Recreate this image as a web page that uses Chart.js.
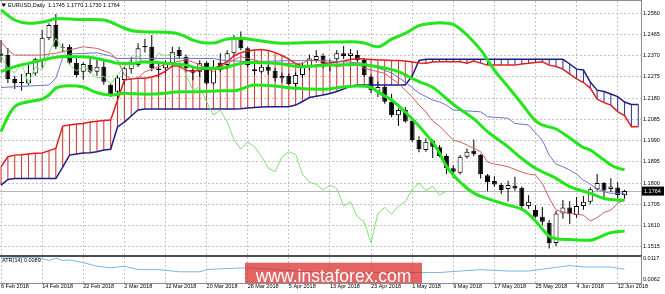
<!DOCTYPE html>
<html>
<head>
<meta charset="utf-8">
<script src="https://cdn.jsdelivr.net/npm/chart.js@4.4.1/dist/chart.umd.min.js"></script>
<style>
  html, body { margin: 0; padding: 0; background: #fff; }
  #wrap { position: relative; width: 665px; height: 294px; overflow: hidden; }
  #main { position: absolute; left: 0; top: 0; }
  #atr { position: absolute; left: 0; top: 256px; }
</style>
</head>
<body>
<div id="wrap">
  <canvas id="main" width="665" height="256"></canvas>
  <canvas id="atr" width="665" height="38"></canvas>
</div>
<script>
// EURUSD daily, bar 0 = 6 Feb 2018 ... bar 91 = 13 Jun 2018 (cloud runs 2 bars further)
const tickBars = [0, 6, 12, 18, 24, 30, 36, 42, 48, 54, 60, 66, 72, 78, 84, 90];
const tickDates = ['6 Feb 2018', '14 Feb 2018', '22 Feb 2018', '2 Mar 2018', '12 Mar 2018', '20 Mar 2018',
  '28 Mar 2018', '5 Apr 2018', '13 Apr 2018', '23 Apr 2018', '1 May 2018', '9 May 2018',
  '17 May 2018', '25 May 2018', '4 Jun 2018', '12 Jun 2018'];
const priceTicks = [1.1515, 1.1610, 1.1705, 1.1800, 1.1895, 1.1990, 1.2085, 1.2180, 1.2275, 1.2370, 1.2465, 1.2560];
const atrTicks = [0.0062, 0.0117];

const barOpen = [1.2370, 1.2373, 1.2266, 1.2248, 1.2246, 1.2291, 1.2351, 1.2448, 1.2508, 1.2405,
  1.2410, 1.2339, 1.2298, 1.2328, 1.2298, 1.2321, 1.2240, 1.2209, 1.2261, 1.2309,
  1.2328, 1.2408, 1.2410, 1.2313, 1.2314, 1.2336, 1.2396, 1.2366, 1.2306, 1.2298,
  1.2339, 1.2246, 1.2339, 1.2329, 1.2381, 1.2444, 1.2403, 1.2309, 1.2298, 1.2321,
  1.2303, 1.2269, 1.2279, 1.2243, 1.2284, 1.2321, 1.2351, 1.2369, 1.2328, 1.2354,
  1.2381, 1.2369, 1.2373, 1.2351, 1.2276, 1.2210, 1.2231, 1.2164, 1.2104, 1.2127,
  1.2079, 1.1993, 1.1948, 1.1989, 1.1960, 1.1921, 1.1866, 1.1846, 1.1918, 1.1945,
  1.1925, 1.1835, 1.1809, 1.1791, 1.1773, 1.1788, 1.1779, 1.1697, 1.1679, 1.1649,
  1.1622, 1.1532, 1.1664, 1.1691, 1.1657, 1.1697, 1.1716, 1.1772, 1.1800, 1.1773,
  1.1780, 1.1745];
const barHigh = [1.2440, 1.2405, 1.2280, 1.2288, 1.2328, 1.2360, 1.2485, 1.2515, 1.2557, 1.2425,
  1.2420, 1.2362, 1.2340, 1.2355, 1.2355, 1.2345, 1.2245, 1.2285, 1.2320, 1.2365,
  1.2426, 1.2446, 1.2463, 1.2335, 1.2350, 1.2410, 1.2410, 1.2375, 1.2320, 1.2350,
  1.2345, 1.2351, 1.2381, 1.2395, 1.2463, 1.2478, 1.2410, 1.2335, 1.2330, 1.2330,
  1.2315, 1.2295, 1.2290, 1.2295, 1.2340, 1.2375, 1.2396, 1.2380, 1.2355, 1.2396,
  1.2414, 1.2400, 1.2395, 1.2360, 1.2285, 1.2255, 1.2240, 1.2200, 1.2135, 1.2140,
  1.2085, 1.2010, 1.2000, 1.1995, 1.1970, 1.1930, 1.1880, 1.1925, 1.1955, 1.1995,
  1.1930, 1.1840, 1.1830, 1.1800, 1.1810, 1.1828, 1.1785, 1.1745, 1.1700, 1.1693,
  1.1635, 1.1675, 1.1724, 1.1718, 1.1738, 1.1742, 1.1780, 1.1840, 1.1805, 1.1822,
  1.1804, 1.1770];
const barLow = [1.2340, 1.2248, 1.2221, 1.2213, 1.2238, 1.2280, 1.2315, 1.2440, 1.2400, 1.2385,
  1.2330, 1.2273, 1.2262, 1.2290, 1.2280, 1.2240, 1.2185, 1.2172, 1.2245, 1.2290,
  1.2320, 1.2385, 1.2300, 1.2275, 1.2290, 1.2320, 1.2355, 1.2300, 1.2260, 1.2275,
  1.2240, 1.2240, 1.2298, 1.2310, 1.2370, 1.2395, 1.2320, 1.2285, 1.2290, 1.2285,
  1.2255, 1.2250, 1.2240, 1.2215, 1.2270, 1.2305, 1.2340, 1.2315, 1.2300, 1.2340,
  1.2355, 1.2355, 1.2345, 1.2275, 1.2203, 1.2185, 1.2155, 1.2095, 1.2055, 1.2070,
  1.1985, 1.1938, 1.1940, 1.1912, 1.1915, 1.1840, 1.1823, 1.1838, 1.1910, 1.1920,
  1.1820, 1.1763, 1.1783, 1.1750, 1.1717, 1.1765, 1.1676, 1.1685, 1.1645, 1.1610,
  1.1507, 1.1517, 1.1640, 1.1617, 1.1645, 1.1680, 1.1705, 1.1765, 1.1728, 1.1760,
  1.1730, 1.1730];
const barClose = [1.2380, 1.2266, 1.2248, 1.2252, 1.2294, 1.2354, 1.2451, 1.2508, 1.2410, 1.2408,
  1.2339, 1.2284, 1.2333, 1.2298, 1.2321, 1.2254, 1.2194, 1.2273, 1.2314, 1.2343,
  1.2403, 1.2414, 1.2314, 1.2306, 1.2337, 1.2388, 1.2369, 1.2314, 1.2294, 1.2336,
  1.2246, 1.2320, 1.2306, 1.2381, 1.2448, 1.2403, 1.2329, 1.2302, 1.2321, 1.2303,
  1.2269, 1.2279, 1.2243, 1.2284, 1.2321, 1.2358, 1.2369, 1.2336, 1.2335, 1.2381,
  1.2369, 1.2381, 1.2351, 1.2284, 1.2216, 1.2230, 1.2164, 1.2104, 1.2127, 1.2075,
  1.1993, 1.1952, 1.1985, 1.1962, 1.1921, 1.1866, 1.1851, 1.1918, 1.1940, 1.1929,
  1.1839, 1.1805, 1.1794, 1.1769, 1.1791, 1.1776, 1.1697, 1.1716, 1.1649, 1.1627,
  1.1532, 1.1664, 1.1691, 1.1661, 1.1697, 1.1716, 1.1772, 1.1800, 1.1767, 1.1785,
  1.1747, 1.1764];

// Ichimoku cloud, one value per bar slot (0..93)
const spanA = [1.1873, 1.1918, 1.1925, 1.1927, 1.1930, 1.1933, 1.1935, 1.1945, 1.1955, 1.2055,
  1.2060, 1.2064, 1.2067, 1.2073, 1.2077, 1.2080, 1.2082, 1.2171, 1.2261, 1.2266,
  1.2269, 1.2269, 1.2275, 1.2284, 1.2301, 1.2324, 1.2324, 1.2304, 1.2301, 1.2306,
  1.2313, 1.2310, 1.2328, 1.2344, 1.2369, 1.2384, 1.2391, 1.2396, 1.2398, 1.2393,
  1.2384, 1.2371, 1.2355, 1.2335, 1.2324, 1.2322, 1.2328, 1.2333, 1.2337, 1.2342,
  1.2346, 1.2353, 1.2358, 1.2355, 1.2353, 1.2351, 1.2351, 1.2349, 1.2349, 1.2346,
  1.2342, 1.2337, 1.2336, 1.2342, 1.2343, 1.2343, 1.2343, 1.2343, 1.2336, 1.2346,
  1.2337, 1.2328, 1.2328, 1.2328, 1.2328, 1.2328, 1.2333, 1.2336, 1.2340, 1.2343,
  1.2328, 1.2322, 1.2310, 1.2288, 1.2266, 1.2250, 1.2225, 1.2176, 1.2160, 1.2149,
  1.2120, 1.2102, 1.2052, 1.2052];
const spanB = [1.1791, 1.1816, 1.1820, 1.1820, 1.1820, 1.1820, 1.1820, 1.1820, 1.1820, 1.1871,
  1.1925, 1.1930, 1.1934, 1.1936, 1.1940, 1.1948, 1.1951, 1.2051, 1.2073, 1.2100,
  1.2127, 1.2131, 1.2131, 1.2131, 1.2131, 1.2131, 1.2131, 1.2131, 1.2131, 1.2131,
  1.2131, 1.2131, 1.2131, 1.2131, 1.2131, 1.2133, 1.2136, 1.2138, 1.2140, 1.2142,
  1.2142, 1.2142, 1.2142, 1.2149, 1.2165, 1.2183, 1.2189, 1.2194, 1.2201, 1.2210,
  1.2221, 1.2234, 1.2239, 1.2239, 1.2239, 1.2239, 1.2239, 1.2239, 1.2239, 1.2239,
  1.2279, 1.2349, 1.2354, 1.2354, 1.2354, 1.2354, 1.2354, 1.2354, 1.2354, 1.2354,
  1.2354, 1.2354, 1.2354, 1.2354, 1.2354, 1.2354, 1.2354, 1.2354, 1.2354, 1.2354,
  1.2354, 1.2354, 1.2354, 1.2333, 1.2310, 1.2306, 1.2252, 1.2216, 1.2210, 1.2199,
  1.2187, 1.2163, 1.2152, 1.2152];

// lines as [bar, value] vertices
const tenkan = [[0, 1.2433], [1, 1.2396], [2, 1.2373], [6, 1.2373], [8, 1.2381], [10, 1.2396], [12, 1.2410],
  [14, 1.2403], [16, 1.2381], [17, 1.2351], [18, 1.2284], [19, 1.2266], [20, 1.2272], [21, 1.2298],
  [23, 1.2321], [25, 1.2339], [27, 1.2351], [28, 1.2342], [30, 1.2314], [31, 1.2298], [32, 1.2321],
  [34, 1.2351], [35, 1.2366], [36, 1.2358], [38, 1.2343], [40, 1.2336], [44, 1.2336], [45, 1.2351],
  [47, 1.2346], [49, 1.2321], [52, 1.2336], [53, 1.2314], [56, 1.2291], [58, 1.2246], [60, 1.2186],
  [61, 1.2149], [62, 1.2119], [63, 1.2077], [64, 1.2055], [66, 1.1992], [67, 1.1985], [68, 1.1970],
  [70, 1.1940], [71, 1.1894], [72, 1.1885], [73, 1.1880], [74, 1.1873], [76, 1.1849], [77, 1.1840],
  [78, 1.1836], [79, 1.1798], [80, 1.1733], [81, 1.1679], [82, 1.1671], [83, 1.1664], [85, 1.1656],
  [86, 1.1630], [87, 1.1645], [88, 1.1668], [89, 1.1679], [90, 1.1710], [91, 1.1724]];
const kijun = [[0, 1.2228], [7, 1.2239], [8, 1.2270], [9, 1.2360], [10, 1.2378], [14, 1.2383], [16, 1.2369],
  [17, 1.2358], [31, 1.2358], [32, 1.2351], [36, 1.2343], [42, 1.2348], [47, 1.2348], [50, 1.2343],
  [53, 1.2336], [55, 1.2315], [57, 1.2293], [59, 1.2252], [61, 1.2203], [63, 1.2172], [64, 1.2163],
  [65, 1.2149], [66, 1.2127], [70, 1.2119], [71, 1.2097], [74, 1.2090], [75, 1.2067], [77, 1.2060],
  [78, 1.2024], [79, 1.1992], [80, 1.1925], [81, 1.1885], [82, 1.1873], [83, 1.1858], [84, 1.1840],
  [85, 1.1813], [86, 1.1795], [87, 1.1773], [88, 1.1761], [89, 1.1754], [91, 1.1754]];
const bbUpper = [[0, 1.2575], [2, 1.2530], [4, 1.2515], [7, 1.2527], [8, 1.2537], [12, 1.2532], [15, 1.2530],
  [16, 1.2521], [18, 1.2493], [20, 1.2478], [25, 1.2473], [27, 1.2455], [28, 1.2440], [30, 1.2427],
  [31, 1.2427], [33, 1.2445], [35, 1.2448], [37, 1.2440], [41, 1.2426], [44, 1.2428], [48, 1.2431],
  [51, 1.2433], [53, 1.2427], [55, 1.2410], [57, 1.2444], [59, 1.2470], [61, 1.2505], [63, 1.2515],
  [64, 1.2518], [66, 1.2510], [67, 1.2490], [68, 1.2463], [70, 1.2396], [72, 1.2306], [74, 1.2231],
  [76, 1.2155], [78, 1.2078], [79, 1.2060], [81, 1.2042], [83, 1.2002], [85, 1.1959], [86, 1.1948],
  [87, 1.1926], [88, 1.1903], [89, 1.1881], [90, 1.1867], [91, 1.1860]];
const bbMiddle = [[0, 1.2299], [2, 1.2321], [5, 1.2343], [7, 1.2358], [9, 1.2367], [12, 1.2366], [14, 1.2358],
  [16, 1.2344], [17, 1.2336], [19, 1.2335], [21, 1.2343], [24, 1.2336], [27, 1.2328], [29, 1.2314],
  [32, 1.2314], [34, 1.2328], [36, 1.2340], [40, 1.2336], [44, 1.2321], [48, 1.2328], [52, 1.2331],
  [55, 1.2321], [58, 1.2299], [59, 1.2284], [61, 1.2254], [63, 1.2229], [64, 1.2205], [66, 1.2152],
  [69, 1.2087], [71, 1.2030], [74, 1.1962], [76, 1.1910], [78, 1.1866], [81, 1.1821], [83, 1.1784],
  [86, 1.1754], [88, 1.1731], [90, 1.1724], [91, 1.1722]];
const bbLower = [[0, 1.2030], [1, 1.2097], [2, 1.2142], [4, 1.2164], [6, 1.2176], [7, 1.2194], [8, 1.2225],
  [10, 1.2236], [12, 1.2230], [14, 1.2204], [16, 1.2194], [18, 1.2202], [21, 1.2198], [24, 1.2202],
  [26, 1.2209], [29, 1.2209], [32, 1.2213], [34, 1.2213], [37, 1.2239], [40, 1.2234], [43, 1.2224],
  [47, 1.2220], [50, 1.2230], [52, 1.2234], [54, 1.2228], [55, 1.2207], [57, 1.2172], [59, 1.2118],
  [61, 1.2055], [62, 1.2019], [63, 1.1983], [64, 1.1934], [65, 1.1876], [67, 1.1804], [69, 1.1755],
  [71, 1.1730], [74, 1.1701], [76, 1.1683], [77, 1.1661], [78, 1.1630], [79, 1.1594], [80, 1.1562],
  [81, 1.1551], [83, 1.1547], [86, 1.1544], [87, 1.1553], [88, 1.1567], [89, 1.1578], [91, 1.1585]];
const atrLine = [[0, 0.0119], [3, 0.0121], [5, 0.0122], [7, 0.0113], [8, 0.0119], [9, 0.0113], [10, 0.0114],
  [12, 0.0107], [14, 0.0097], [16, 0.0093], [18, 0.0097], [20, 0.0088], [23, 0.0088], [26, 0.0082],
  [29, 0.0082], [30, 0.0088], [32, 0.0090], [36, 0.0093], [40, 0.0088], [45, 0.0082], [50, 0.0078],
  [55, 0.0080], [61, 0.0080], [64, 0.0080], [67, 0.0084], [70, 0.0088], [74, 0.0084], [77, 0.0084],
  [81, 0.0094], [83, 0.0099], [85, 0.0095], [89, 0.0095], [91, 0.0089]];

const last = barClose.length - 1;
const bidPrice = barClose[last];
const FONT = "'Liberation Sans', Arial, sans-serif";
const GRID = '#c4c4c4';
const BB = 'rgb(34, 230, 26)';

function pts(pairs) {
  return pairs.map(p => ({x: p[0], y: p[1]}));
}

function xAxis(showLabels) {
  return {
    type: 'linear', min: -0.15, max: 93.4, offset: false,
    afterBuildTicks: s => { s.ticks = tickBars.map(v => ({value: v})); },
    ticks: {
      display: showLabels, autoSkip: false, maxRotation: 0, align: 'start', padding: 1,
      color: '#000', font: {family: FONT, size: 5.5, lineHeight: 1},
      callback: v => tickDates[tickBars.indexOf(v)]
    },
    grid: {color: GRID, drawTicks: false, offset: false},
    border: {display: false, dash: [2, 2]}
  };
}

function yAxis(min, max, ticks, gridOn) {
  return {
    type: 'linear', position: 'right', min: min, max: max,
    afterBuildTicks: s => { s.ticks = ticks.map(v => ({value: v})); },
    afterFit: s => { s.width = 24; },
    ticks: {padding: 0, color: '#000', font: {family: FONT, size: 5.5, lineHeight: 0.3},
      callback: v => v.toFixed(4)},
    grid: {color: GRID, drawOnChartArea: gridOn, drawTicks: true, tickLength: 2, tickColor: 'rgba(0,0,0,0)'},
    border: {display: false, dash: [2, 2]}
  };
}

const thinLine = (label, data, color, width, order) => ({
  type: 'line', label: label, data: data, borderColor: color, borderWidth: width,
  pointRadius: 0, tension: 0, order: order
});
const smoothLine = (label, data) => ({
  type: 'line', label: label, data: pts(data), borderColor: BB, borderWidth: 3,
  pointRadius: 0, cubicInterpolationMode: 'monotone', order: 0
});

// current price line, frame, price tag and symbol header
const mainDeco = {
  id: 'mainDeco',
  beforeDatasetsDraw(chart) {
    const {ctx, chartArea: a, scales: {y}} = chart;
    const py = Math.round(y.getPixelForValue(bidPrice)) + 0.5;
    ctx.save();
    ctx.strokeStyle = '#b4b4b4';
    ctx.lineWidth = 1;
    ctx.beginPath();
    ctx.moveTo(a.left, py);
    ctx.lineTo(a.right, py);
    ctx.stroke();
    ctx.restore();
  },
  afterDraw(chart) {
    const {ctx, chartArea: a, scales: {y}} = chart;
    ctx.save();
    ctx.fillStyle = '#8c8c8c';
    ctx.fillRect(0, 0, a.right + 1, 1);
    ctx.fillRect(a.right, 0, 1, chart.height);
    ctx.fillStyle = '#4d4d4d';
    ctx.fillRect(0, chart.height - 1, a.right + 1, 1);

    const py = y.getPixelForValue(bidPrice);
    ctx.fillStyle = '#000';
    ctx.fillRect(a.right + 1, py - 4.5, 22, 9);
    ctx.fillStyle = '#fff';
    ctx.font = '5.5px ' + FONT;
    ctx.textBaseline = 'middle';
    ctx.fillText(bidPrice.toFixed(4), a.right + 3, py + 0.5);

    ctx.fillStyle = '#000';
    ctx.beginPath();
    ctx.moveTo(1.5, 3.5);
    ctx.lineTo(6, 3.5);
    ctx.lineTo(3.75, 7);
    ctx.closePath();
    ctx.fill();
    const ohlc = [barOpen[last], barHigh[last], barLow[last], barClose[last]].map(v => v.toFixed(4)).join(' ');
    ctx.fillText('EURUSD,Daily  ' + ohlc, 8, 5.5);
    ctx.restore();
  }
};

new Chart(document.getElementById('main'), {
  type: 'bar',
  data: {
    datasets: [
      smoothLine('BB upper', bbUpper),
      smoothLine('BB middle', bbMiddle),
      smoothLine('BB lower', bbLower),
      thinLine('Tenkan-sen', pts(tenkan), 'rgb(205, 95, 95)', 1, 1),
      thinLine('Kijun-sen', pts(kijun), 'rgb(112, 112, 205)', 1, 1),
      thinLine('Chikou span', barClose.slice(26).map((v, k) => ({x: k, y: v})), 'rgb(125, 228, 112)', 1, 1),
      thinLine('Senkou A', spanA.map((v, i) => ({x: i, y: v})), 'rgb(225, 30, 30)', 1.5, 2),
      thinLine('Senkou B', spanB.map((v, i) => ({x: i, y: v})), 'rgb(30, 30, 135)', 1.5, 2),
      {
        type: 'bar', label: 'Body',
        data: barOpen.map((o, i) => ({x: i, y: [o, barClose[i]]})),
        backgroundColor: barOpen.map((o, i) => barClose[i] >= o ? '#fff' : '#000'),
        borderColor: '#000', borderWidth: 1, borderSkipped: false, inflateAmount: 0,
        grouped: false, barThickness: 5, maxBarThickness: 5, order: 3
      },
      {
        type: 'bar', label: 'Wick',
        data: barLow.map((l, i) => ({x: i, y: [l, barHigh[i]]})),
        backgroundColor: '#000', inflateAmount: 0,
        grouped: false, barThickness: 1, maxBarThickness: 1, order: 4
      },
      {
        type: 'bar', label: 'Cloud',
        data: spanA.map((a, i) => ({x: i, y: [a, spanB[i]]})),
        backgroundColor: spanA.map((a, i) => a >= spanB[i] ? 'rgb(215, 45, 45)' : 'rgb(45, 45, 150)'),
        inflateAmount: 0, grouped: false, barThickness: 1, maxBarThickness: 1, order: 5
      }
    ]
  },
  options: {
    responsive: false,
    animation: false,
    events: [],
    layout: {padding: {left: 0, right: 0, top: 1, bottom: 1}},
    plugins: {legend: {display: false}, tooltip: {enabled: false}},
    scales: {
      x: xAxis(false),
      y: yAxis(1.14778, 1.26151, priceTicks, true)
    }
  },
  plugins: [mainDeco]
});

// ATR window with the date axis and the watermark
const atrDeco = {
  id: 'atrDeco',
  afterDraw(chart) {
    const {ctx, chartArea: a} = chart;
    ctx.save();
    ctx.fillStyle = '#4d4d4d';
    ctx.fillRect(0, 0, a.right + 1, 1);
    ctx.fillStyle = '#8c8c8c';
    ctx.fillRect(a.right, 0, 1, a.bottom + 1);
    ctx.fillRect(0, a.bottom, a.right + 1, 1);
    ctx.fillStyle = '#000';
    ctx.font = '5.5px ' + FONT;
    ctx.textBaseline = 'middle';
    ctx.fillText('ATR(14) ' + atrLine[atrLine.length - 1][1].toFixed(4), 2, 4.5);

    ctx.fillStyle = 'rgba(218, 40, 40, 0.72)';
    ctx.fillRect(245, 6.7, 177, a.bottom - 6.7);
    ctx.fillStyle = '#fff';
    ctx.font = '17.5px ' + FONT;
    ctx.textAlign = 'center';
    ctx.textBaseline = 'alphabetic';
    ctx.fillText('www.instaforex.com', 333.5, 25.7);
    ctx.restore();
  }
};

new Chart(document.getElementById('atr'), {
  type: 'line',
  data: {
    datasets: [
      thinLine('ATR(14)', pts(atrLine), 'rgb(118, 184, 230)', 1, 0)
    ]
  },
  options: {
    responsive: false,
    animation: false,
    events: [],
    layout: {padding: {left: 0, right: 0, top: 1, bottom: 3.5}},
    plugins: {legend: {display: false}, tooltip: {enabled: false}},
    scales: {
      x: xAxis(true),
      y: yAxis(0.005152, 0.012224, atrTicks, false)
    }
  },
  plugins: [atrDeco]
});
</script>
</body>
</html>
